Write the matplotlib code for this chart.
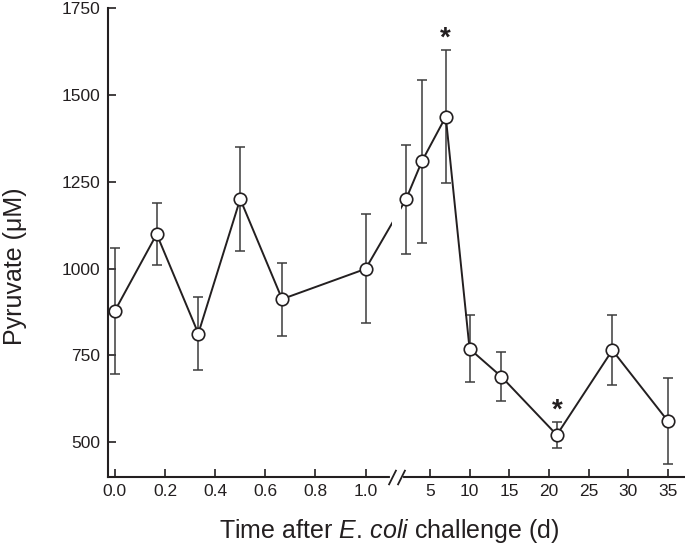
import numpy as np
import matplotlib
matplotlib.use("Agg")
import matplotlib.pyplot as plt

plt.rcParams['font.family'] = ['Liberation Sans', 'DejaVu Sans']
plt.rcParams['mathtext.fontset'] = 'custom'
plt.rcParams['mathtext.rm'] = 'Liberation Sans'
plt.rcParams['mathtext.it'] = 'Liberation Sans:italic'

# Data (time in days, pyruvate in uM, SEM)
days = [0.0, 0.167, 0.333, 0.5, 0.667, 1.0, 2, 4, 7, 10, 14, 21, 28, 35]
pyruvate = [878, 1099, 813, 1200, 912, 999, 1200, 1309, 1437, 769, 689, 521, 765, 561]
sem = [181, 89, 106, 150, 105, 157, 157, 235, 192, 97, 70, 38, 100, 123]
signif_days = [7, 21]

xticks_left = [0.0, 0.2, 0.4, 0.6, 0.8, 1.0]
xticks_right = [5, 10, 15, 20, 25, 30, 35]
yticks = [500, 750, 1000, 1250, 1500, 1750]

# broken x scale: first day stretched, then days 2..35 compressed
brk_x = [-1.0, 1.0, 2.0, 40.0]
brk_p = [-250.7, 250.7, 291.2, 291.2 + 38 * 7.93]


def fwd(x):
    return np.interp(x, brk_x, brk_p)


def inv(p):
    return np.interp(p, brk_p, brk_x)


ink = '#231f20'
fig = plt.figure(figsize=(6.85, 5.46), dpi=100)
ax = fig.add_axes([0.157, 0.1264, 0.8415, 0.859])
ax.set_xscale('function', functions=(fwd, inv))

ax.errorbar(days, pyruvate, yerr=sem, fmt='none', ecolor='#3c3c3c',
            elinewidth=1.1, capsize=3.7, capthick=1.1, zorder=2)
ax.plot(days, pyruvate, color=ink, lw=1.4, zorder=2)

# white gap where the axis is broken
b1, b2 = 1.649, 1.872
ax.axvspan(b1, b2, color='white', lw=0, zorder=2.3)

ax.plot(days, pyruvate, ls='none', marker='o', ms=9, mfc='white',
        mec=ink, mew=1.2, zorder=4)

for d in signif_days:
    i = days.index(d)
    ax.annotate('*', xy=(d, pyruvate[i] + sem[i]), xytext=(0, -1.5),
                textcoords='offset points', ha='center', va='bottom',
                fontsize=20, fontweight='bold', color=ink)

ax.set_xlim(-0.029, 37.03)
ax.set_ylim(400, 1750)
ax.set_xticks(xticks_left + xticks_right)
ax.set_xticklabels(['%.1f' % t for t in xticks_left] + [str(t) for t in xticks_right])
ax.set_yticks(yticks)

for s in ['top', 'right']:
    ax.spines[s].set_visible(False)
for s in ['left', 'bottom']:
    ax.spines[s].set_linewidth(1.5)
    ax.spines[s].set_color(ink)

ax.tick_params(direction='in', length=6, width=1.2, colors=ink,
               labelsize=12.5, pad=5)

# break marks on the x axis
trans = ax.get_xaxis_transform()
ax.plot([b1, b2], [0, 0], color='white', lw=3, transform=trans,
        clip_on=False, zorder=5)
ax.plot([b1, b2], [0, 0], ls='none', marker=[(-1, -2), (1, 2)], ms=11,
        mec=ink, mew=1.3, transform=trans, clip_on=False, zorder=6)

ax.set_ylabel('Pyruvate (\u03bcM)', fontsize=18, color=ink)
ax.set_xlabel(r'Time after $\mathit{E.\,coli}$ challenge (d)',
              fontsize=18, color=ink)
ax.yaxis.set_label_coords(-0.14, 0.45)
ax.xaxis.set_label_coords(0.489, -0.085)

fig.savefig('out.png', dpi=100)
